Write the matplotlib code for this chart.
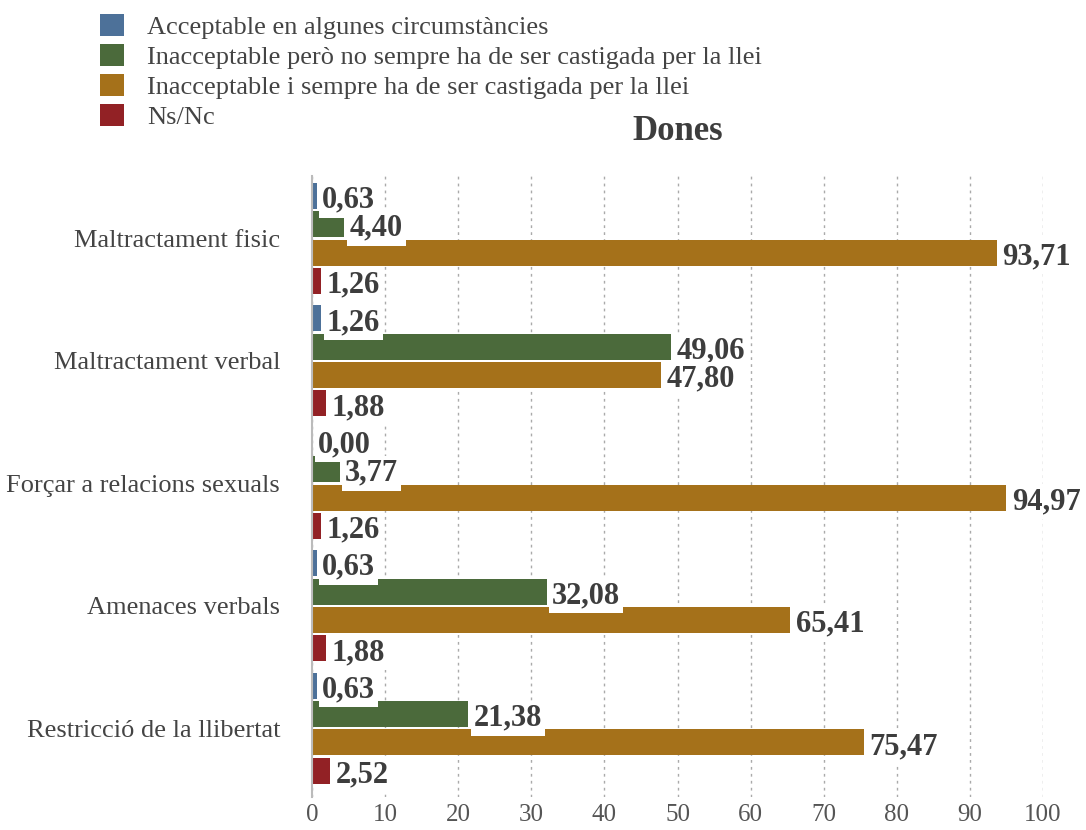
import matplotlib
matplotlib.use("Agg")
import matplotlib.pyplot as plt
from matplotlib.patches import Patch
import numpy as np

categories = ["Maltractament fisic", "Maltractament verbal", "Forçar a relacions sexuals",
              "Amenaces verbals", "Restricció de la llibertat"]
series_names = ["Acceptable en algunes circumstàncies",
                "Inacceptable però no sempre ha de ser castigada per la llei",
                "Inacceptable i sempre ha de ser castigada per la llei",
                "Ns/Nc"]
acceptable = [0.63, 1.26, 0.00, 0.63, 0.63]
no_sempre = [4.40, 49.06, 3.77, 32.08, 21.38]
sempre = [93.71, 47.80, 94.97, 65.41, 75.47]
nsnc = [1.26, 1.88, 1.26, 1.88, 2.52]
colors = ["#4d7199", "#4b6a3b", "#a5711a", "#922125"]

plt.rcParams['font.family'] = ['Liberation Serif', 'DejaVu Serif']

fig = plt.figure(figsize=(10.86, 8.3), dpi=100)
ax = fig.add_axes([0.2873, 0.040, 0.6731, 0.748])

y = np.arange(len(categories))
pitch = 0.232
height = 0.212
series = [acceptable, no_sempre, sempre, nsnc]
for k, vals in enumerate(series):
    pos = y + (k - 1.5) * pitch
    ax.barh(pos, vals, height=height, color=colors[k], zorder=2)
    for p, v in zip(pos, vals):
        ax.annotate(f"{v:.2f}".replace(".", ","), xy=(v, p), xytext=(4, -3),
                    textcoords="offset points", va="center", ha="left",
                    fontsize=22, fontweight="bold", color="#3d3d3d", zorder=4,
                    bbox=dict(boxstyle="square,pad=0.1", fc="white", ec="none"))

ax.set_xlim(0, 100)
ax.set_ylim(4.56, -0.51)
ax.set_yticks(y)
ax.set_yticklabels(categories, fontsize=19, color="#444444")
ax.set_xticks(np.arange(0, 101, 10))
ax.tick_params(axis="x", labelsize=18, colors="#555555", length=0, pad=5)
ax.tick_params(axis="y", length=0, pad=23)
for s in ["top", "right", "bottom"]:
    ax.spines[s].set_visible(False)
ax.spines["left"].set_color("#bbbbbb")
ax.spines["left"].set_linewidth(1.5)
ax.xaxis.grid(True, linestyle=(0, (2, 3)), color="#aaaaaa", linewidth=1, zorder=0)
ax.set_axisbelow(True)

ax.set_title("Dones", fontsize=25, fontweight="bold", color="#3d3d3d", pad=26)

handles = [Patch(facecolor=c) for c in colors]
fig.legend(handles, series_names, loc="upper left", bbox_to_anchor=(0.075, 1.005),
           frameon=False, fontsize=19, handlelength=0.9, handleheight=0.9,
           labelspacing=0.18, handletextpad=0.9, borderaxespad=0.3,
           labelcolor="#444444")

fig.savefig("out.png", dpi=100)
